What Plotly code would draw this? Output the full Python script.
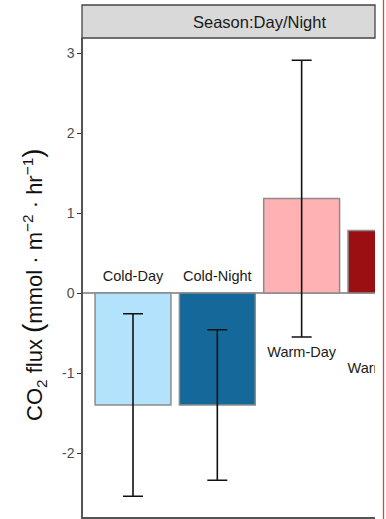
import plotly.graph_objects as go

# CO2 flux by season and time of day
categories = ["Cold-Day", "Cold-Night", "Warm-Day", "Warm-Night"]
flux_mean = [-1.40, -1.40, 1.18, 0.78]
flux_err = [1.14, 0.94, 1.73, 0.60]
bar_colors = ["#b3e3fc", "#15699a", "#ffb1b4", "#9b0f12"]
label_y = [0.19, 0.19, -0.75, -0.96]
y_ticks = [-2, -1, 0, 1, 2, 3]
y_tick_text = ["-2", "-1", "0", "1", "2", "3"]
strip_title = "Season:Day/Night"
y_title = ("CO<sub>2</sub> flux "
           "<span style='font-size:28px'>(</span>"
           "mmol · m<sup>−2</sup> · hr<sup>−1</sup>"
           "<span style='font-size:28px'>)</span>")

FONT = "Liberation Sans, Arial, Helvetica, sans-serif"

fig = go.Figure()

fig.add_trace(go.Bar(
    x=categories,
    y=flux_mean,
    width=0.9,
    marker=dict(color=bar_colors, line=dict(color="#8c8c8c", width=1.5)),
    error_y=dict(type="data", array=flux_err, visible=True,
                 color="#111111", thickness=1.6, width=10),
    showlegend=False,
    hoverinfo="skip",
))

# group labels, clipped to the panel like the bars
fig.add_trace(go.Scatter(
    x=categories,
    y=label_y,
    mode="text",
    text=categories,
    textposition="middle center",
    textfont=dict(family=FONT, size=14.5, color="#1a1a1a"),
    cliponaxis=True,
    showlegend=False,
    hoverinfo="skip",
))

W, H = 386, 519
L, R, T, B = 83, 11, 38, 2
pw, ph = W - L - R, H - T - B

def px_x(px):
    return (px - L) / pw

def px_y(py):
    return (H - B - py) / ph

shapes = [
    # zero reference line
    dict(type="line", xref="paper", yref="y", x0=0, x1=1, y0=0, y1=0,
         line=dict(color="#7a7a7a", width=1.5), layer="below"),
    # facet strip
    dict(type="rect", xref="paper", yref="paper",
         x0=px_x(82), x1=1, y0=1, y1=px_y(5),
         fillcolor="#d9d9d9", line=dict(color="#444444", width=1.3)),
    # right-hand frame line
    dict(type="line", xref="paper", yref="paper",
         x0=px_x(383.5), x1=px_x(383.5), y0=px_y(519), y1=px_y(0),
         line=dict(color="#d64545", width=1.3)),
]

fig.update_layout(
    width=W, height=H,
    margin=dict(l=L, r=R, t=T, b=B, pad=0),
    paper_bgcolor="white",
    plot_bgcolor="white",
    bargap=0.1,
    font=dict(family=FONT, color="#1a1a1a"),
    shapes=shapes,
    annotations=[
        dict(
            text=strip_title, xref="paper", yref="paper",
            x=px_x(259), y=px_y(22), showarrow=False,
            font=dict(family=FONT, size=16.5, color="#1a1a1a"),
            xanchor="center", yanchor="middle",
        ),
        dict(
            text=y_title, xref="paper", yref="paper",
            x=px_x(33), y=px_y(285), showarrow=False, textangle=-90,
            font=dict(family=FONT, size=22, color="#111111"),
            xanchor="center", yanchor="middle",
        ),
    ],
    xaxis=dict(
        type="category",
        range=[-0.593, 2.87],
        showticklabels=False,
        ticks="",
        showgrid=False,
        zeroline=False,
        showline=True,
        linecolor="#555555",
        linewidth=2,
        fixedrange=True,
    ),
    yaxis=dict(
        range=[-2.8, 3.1875],
        tickvals=y_ticks,
        ticktext=y_tick_text,
        ticks="outside",
        ticklen=4,
        tickwidth=1.3,
        tickcolor="#333333",
        tickfont=dict(family=FONT, size=14, color="#4d4d4d"),
        showgrid=False,
        zeroline=False,
        showline=True,
        linecolor="#555555",
        linewidth=1.5,
        fixedrange=True,
    ),
)

fig.write_html("out.html")
